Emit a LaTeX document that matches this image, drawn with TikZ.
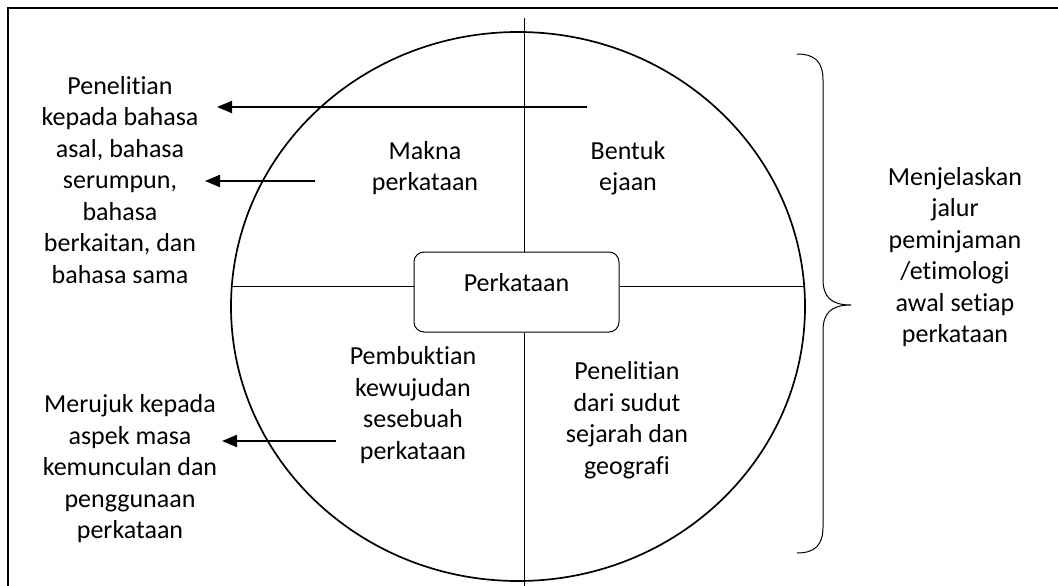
\documentclass[tikz,border=0pt]{standalone}
\usepackage{fontspec}
\setmainfont{Carlito}[Ligatures=NoCommon]
\usetikzlibrary{positioning,shapes.geometric,arrows.meta}

\tikzset{
  note/.style={align=center, font=\fontsize{26pt}{31.5pt}\selectfont, inner sep=0pt},
  thin line/.style={line width=1pt},
  pointer/.style={line width=2pt, -{Triangle[length=15pt,width=12pt]}},
  wordbox/.style={draw, line width=1pt, rounded corners=10pt, minimum width=205pt, minimum height=80pt},
}

\begin{document}
\begin{tikzpicture}[x=1pt, y=-1pt]
  \useasboundingbox (0,0) rectangle (1058,586);
  \clip (0,0) rectangle (1058,586);
  \draw[line width=2pt] (8,8) rectangle (1080,620);

  \node (ring) [draw, ellipse, line width=1.7pt, inner sep=0pt,
    minimum width=574pt, minimum height=549pt] at (518,306.5) {};
  \node (kata) [wordbox] at (516.5,292) {};
  \node (katalabel) [note] at ([yshift=9pt]kata.center) {Perkataan};

  \coordinate (vtop) at (524,18);
  \coordinate (vbot) at (524,600);
  \draw[thin line] (vtop) -- (vtop |- kata.north);
  \draw[thin line] (vtop |- kata.south) -- (vbot);
  \draw[thin line] (ring.176) -- (ring.176 -| kata.west);
  \draw[thin line] (ring.4 -| kata.east) -- (ring.4);

  \node (makna)  [note] at (425,168) {Makna\\perkataan};
  \node (bentuk) [note] at (628,168) {Bentuk\\ejaan};
  \node (bukti)  [note] at (413,405) {Pembuktian\\kewujudan\\sesebuah\\perkataan};
  \node (teliti) [note] at (627,420) {Penelitian\\dari sudut\\sejarah dan\\geografi};

  \node (asal) [note] at (120,180) {Penelitian\\kepada bahasa\\asal, bahasa\\serumpun,\\bahasa\\berkaitan, dan\\bahasa sama};
  \node (masa) [note] at (130,469) {Merujuk kepada\\aspek masa\\kemunculan dan\\penggunaan\\perkataan};

  \coordinate (p1) at (587,107);
  \coordinate (q1) at (217,107);
  \coordinate (p2) at (315,181);
  \coordinate (q2) at (205,181);
  \coordinate (p3) at (336,441);
  \coordinate (q3) at (222,441);
  \draw[pointer] (p1) -- (q1);
  \draw[pointer] (p2) -- (q2);
  \draw[pointer] (p3) -- (q3);

  \coordinate (btop) at (797,54);
  \coordinate (btip) at (851,305);
  \coordinate (bbot) at (797,553);
  \draw[thin line] (btop) .. controls (815,54) and (823,62) .. (823,80) -- (823,279)
    .. controls (823,297) and (831,305) .. (btip)
    .. controls (831,305) and (823,313) .. (823,331) -- (823,527)
    .. controls (823,545) and (815,553) .. (bbot);
  \node (jalur) [note] at (955,257) {Menjelaskan\\jalur\\peminjaman\\/etimologi\\awal setiap\\perkataan};
\end{tikzpicture}
\end{document}
